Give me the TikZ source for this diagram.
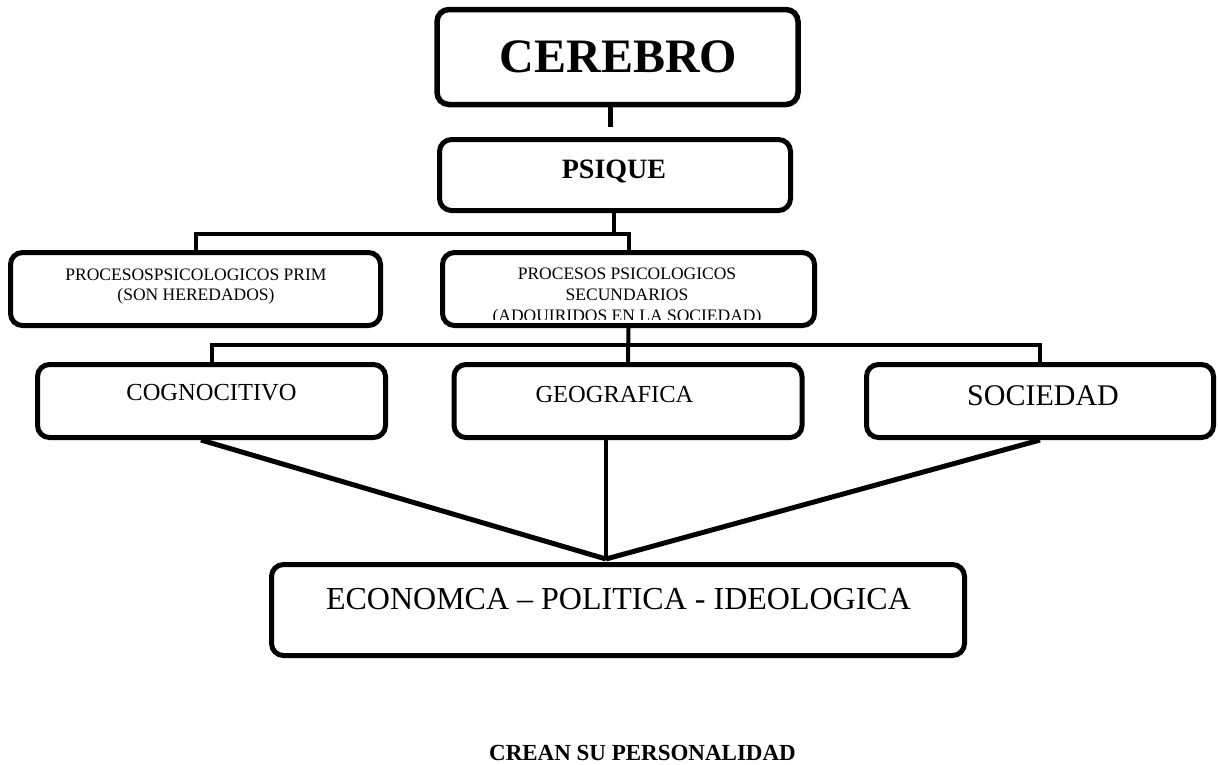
\documentclass[tikz,border=0pt]{standalone}
\usepackage{fontspec}
\setmainfont{Liberation Serif}
\usetikzlibrary{calc}
\tikzset{
	box/.style={draw, line width=5pt, rounded corners=12pt, inner sep=0pt},
	conn/.style={line width=4pt},
	legline/.style={line width=5pt},
	txt/.style={anchor=base, inner sep=0pt, align=center}
}
\def\fsz#1{\fontsize{#1}{#1}\selectfont}

\begin{document}
\begin{tikzpicture}[x=1pt, y=-1pt]
		%%%%% START %%%%%
		\useasboundingbox (0, 0) rectangle (1218, 764);
		
		\node[box, line width=5.5pt, minimum width=361, minimum height=95] (cerebro) at (617.5, 57) {};
		\node[box, minimum width=351, minimum height=71] (psique) at (615, 175) {};
		\node[box, minimum width=370, minimum height=73] (prim) at (195.5, 289) {};
		\node[box, minimum width=372, minimum height=73] (sec) at (628.5, 289) {};
		\node[box, minimum width=348, minimum height=73] (cog) at (211.5, 401) {};
		\node[box, minimum width=348, minimum height=73] (geo) at (628, 401) {};
		\node[box, minimum width=347, minimum height=73] (soc) at (1040, 401) {};
		\node[box, minimum width=693, minimum height=91] (eco) at (618, 610) {};
		
		\node[txt, font=\fsz{48}\bfseries] (cerebrotxt) at (618.5, 72) {CEREBRO};
		\node[txt, font=\fsz{28}\bfseries] (psiquetxt) at (614, 178) {PSIQUE};
		\node[txt, font=\fsz{17.5}] (primtxt) at (196, 280) {PROCESOSPSICOLOGICOS PRIM};
		\node[txt, font=\fsz{17.5}] (primtxtb) at (196, 300) {(SON HEREDADOS)};
		\node[txt, font=\fsz{17.5}] (sectxt) at (627, 279.5) {PROCESOS PSICOLOGICOS};
		\node[txt, font=\fsz{17.5}] (sectxtb) at (627, 300.5) {SECUNDARIOS};
		\begin{scope}
			\clip ([shift={(0,-8.5)}]sec.south west) rectangle (sec.north east);
			\node[txt, font=\fsz{17.5}] (sectxtc) at (627, 321) {(ADQUIRIDOS EN LA SOCIEDAD)};
		\end{scope}
		\node[txt, font=\fsz{24.5}] (cogtxt) at (211.5, 400) {COGNOCITIVO};
		\node[txt, font=\fsz{24.5}] (geotxt) at (614.5, 402) {GEOGRAFICA};
		\node[txt, font=\fsz{30}] (soctxt) at (1043, 405) {SOCIEDAD};
		\node[txt, font=\fsz{32}] (ecotxt) at (618.5, 609) {ECONOMCA -- POLITICA - IDEOLOGICA};
		\node[txt, font=\fsz{23}\bfseries] (crean) at (642.5, 760) {CREAN SU PERSONALIDAD};
		
		% connectors
		\coordinate (stub) at (610, 127);
		\draw[conn, line width=5pt] (cerebro.south -| stub) -- (stub);
		
		\coordinate (j1) at (614, 234);
		\draw[conn] (psique.south -| j1) -- (j1);
		\draw[conn] (prim.north) |- (j1) -| (sec.north);
		
		\coordinate (j2) at (628, 345);
		\draw[conn] (sec.south) -- (geo.north);
		\draw[conn] (cog.north) |- (j2) -| (soc.north);
		
		\coordinate (meet) at (606, 559);
		\draw[legline] (cog.south -| 201, 0) -- (meet);
		\draw[conn] (geo.south -| meet) -- (meet);
		\draw[legline] (soc.south -| 1040, 0) -- (meet);
		
		%%%%% END %%%%%
	\end{tikzpicture}
\end{document}
